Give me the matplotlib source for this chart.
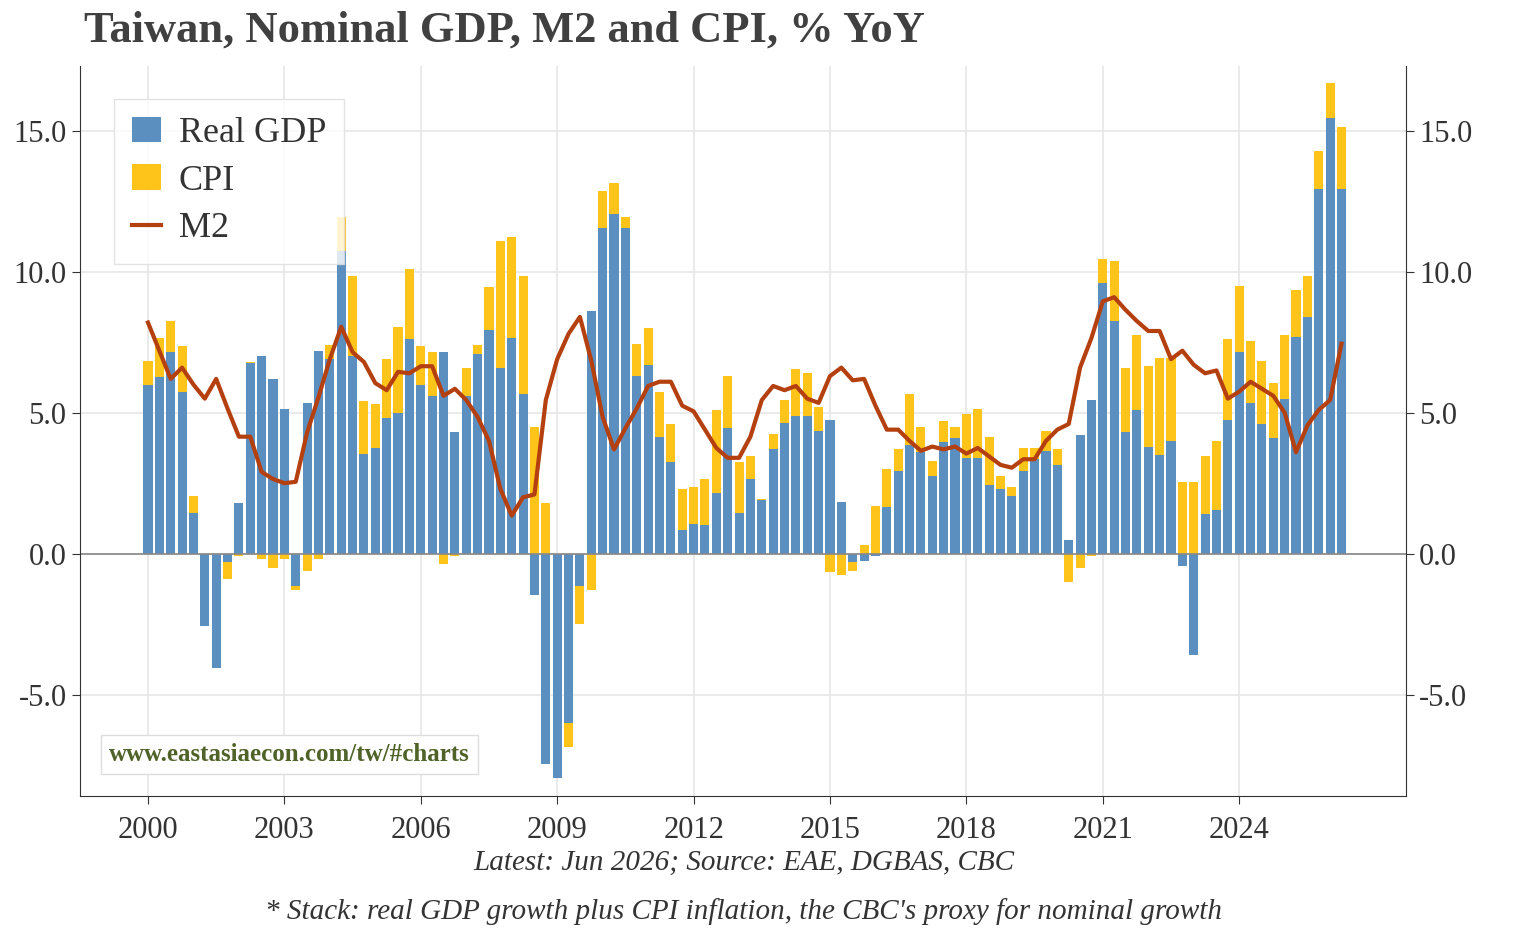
import numpy as np
import matplotlib.pyplot as plt

plt.rcParams['font.family'] = ['Liberation Serif', 'DejaVu Serif']

# quarterly, 2000Q1 .. 2026Q2
real_gdp = [6.0, 6.25, 7.15, 5.75, 1.45, -2.55, -4.05, -0.3,
            1.8, 6.75, 7.0, 6.2, 5.15, -1.15, 5.35, 7.2,
            6.9, 10.75, 7.0, 3.55, 3.75, 4.8, 5.0, 7.6,
            6.0, 5.6, 7.15, 4.3, 5.6, 7.1, 7.95, 6.6,
            7.65, 5.65, -1.45, -7.45, -7.95, -6.0, -1.15, 8.6,
            11.55, 12.05, 11.55, 6.3, 6.7, 4.15, 3.25, 0.85,
            1.05, 1.0, 2.15, 4.45, 1.45, 2.65, 1.9, 3.7,
            4.65, 4.9, 4.9, 4.35, 4.75, 1.85, -0.3, -0.25,
            -0.1, 1.65, 2.95, 3.85, 3.6, 2.75, 3.95, 4.1,
            3.4, 3.4, 2.45, 2.3, 2.05, 2.95, 3.35, 3.65,
            3.15, 0.5, 4.2, 5.45, 9.6, 8.25, 4.3, 5.1,
            3.8, 3.5, 4.0, -0.45, -3.6, 1.4, 1.55, 4.75,
            7.15, 5.35, 4.6, 4.1, 5.5, 7.7, 8.4, 12.95,
            15.45, 12.95]
cpi = [0.85, 1.4, 1.1, 1.6, 0.6, 0.0, 0.0, -0.6,
       -0.1, 0.05, -0.2, -0.5, -0.2, -0.15, -0.6, -0.2,
       0.5, 1.2, 2.85, 1.85, 1.55, 2.1, 3.05, 2.5,
       1.35, 1.55, -0.35, -0.1, 1.0, 0.3, 1.5, 4.5,
       3.6, 4.2, 4.5, 1.8, 0.0, -0.85, -1.35, -1.3,
       1.3, 1.1, 0.4, 1.15, 1.3, 1.6, 1.35, 1.45,
       1.3, 1.65, 2.95, 1.85, 1.8, 0.8, 0.05, 0.55,
       0.8, 1.65, 1.5, 0.85, -0.65, -0.75, -0.3, 0.3,
       1.7, 1.35, 0.75, 1.8, 0.9, 0.55, 0.75, 0.4,
       1.55, 1.75, 1.7, 0.45, 0.3, 0.8, 0.4, 0.7,
       0.55, -1.0, -0.5, -0.1, 0.85, 2.15, 2.3, 2.65,
       2.85, 3.45, 2.95, 2.55, 2.55, 2.05, 2.45, 2.85,
       2.35, 2.2, 2.25, 1.95, 2.25, 1.65, 1.45, 1.35,
       1.25, 2.2]
m2 = [8.2, 7.2, 6.2, 6.6, 6.0, 5.5, 6.2, 5.15, 4.15, 4.15, 2.9, 2.65,
      2.5, 2.55, 4.3, 5.55, 6.9, 8.05, 7.15, 6.8, 6.05, 5.8, 6.45, 6.4,
      6.65, 6.65, 5.6, 5.85, 5.45, 4.85, 4.0, 2.3, 1.35, 2.0, 2.1, 5.45,
      6.9, 7.8, 8.4, 6.85, 4.85, 3.7, 4.45, 5.15, 5.95, 6.1, 6.1, 5.25,
      5.05, 4.4, 3.75, 3.4, 3.4, 4.15, 5.45, 5.95, 5.8, 5.95, 5.5, 5.35,
      6.3, 6.6, 6.15, 6.2, 5.25, 4.4, 4.4, 4.0, 3.65, 3.8, 3.7, 3.8,
      3.55, 3.75, 3.45, 3.15, 3.05, 3.35, 3.35, 4.0, 4.4, 4.6, 6.6, 7.65,
      8.95, 9.1, 8.65, 8.25, 7.9, 7.9, 6.9, 7.2, 6.7, 6.4, 6.5, 5.5,
      5.75, 6.1, 5.85, 5.6, 5.0, 3.6, 4.55, 5.1, 5.45, 7.45]

x = 2000 + np.arange(len(real_gdp)) * 0.25
gdp = np.array(real_gdp)
inf = np.array(cpi)
# diverging stack: positives on positives, negatives on negatives
pos_bot = np.where(gdp > 0, gdp, 0)
neg_bot = np.where(gdp < 0, gdp, 0)
cpi_bot = np.where(inf >= 0, pos_bot, neg_bot)

fig = plt.figure(figsize=(15.34, 9.3), dpi=100)
ax = fig.add_axes([0.052, 0.144, 0.8646, 0.785])
b1 = ax.bar(x, gdp, width=0.2, color='#5a8fbf', label='Real GDP', zorder=2)
b2 = ax.bar(x, inf, width=0.2, bottom=cpi_bot, color='#ffc419', label='CPI', zorder=2)
l1, = ax.plot(x, m2, color='#b5400f', lw=3, label='M2', zorder=3)
ax.axhline(0, color='#888888', lw=1.2, zorder=2.5)

ax.set_xlim(1998.5, 2027.67)
ax.set_ylim(-8.6, 17.3)
ax.set_xticks(range(2000, 2027, 3))
ax.set_yticks([-5, 0, 5, 10, 15])
ax.set_yticklabels(['%.1f' % v for v in [-5, 0, 5, 10, 15]])
ax.grid(True, color='#e6e6e6', lw=1.2, zorder=0)
ax.set_axisbelow(True)
ax.spines['top'].set_visible(False)
for s in ['left', 'right', 'bottom']:
    ax.spines[s].set_color('#333333')
ax.tick_params(axis='both', labelsize=22, colors='#333333', length=6)
ax.tick_params(axis='y', right=True, labelright=True)
ax.tick_params(axis='x', pad=8)

leg = ax.legend([b1, b2, l1], ['Real GDP', 'CPI', 'M2'], loc='upper left',
                fontsize=26, frameon=True, fancybox=False,
                edgecolor='#dddddd', handlelength=0.8, handletextpad=0.5,
                borderpad=0.5, labelspacing=0.4,
                bbox_to_anchor=(0.012, 0.98))
for t in leg.get_texts():
    t.set_color('#333333')

ax.text(0.022, 0.048, 'www.eastasiaecon.com/tw/#charts', transform=ax.transAxes,
        fontsize=18, fontweight='bold', color='#4f6228', zorder=5,
        bbox=dict(facecolor='white', edgecolor='#dddddd', pad=6))

fig.text(0.055, 0.955, 'Taiwan, Nominal GDP, M2 and CPI, % YoY', fontsize=32,
         fontweight='bold', color='#404040')
fig.text(0.485, 0.065, 'Latest: Jun 2026; Source: EAE, DGBAS, CBC', fontsize=21,
         style='italic', color='#333333', ha='center')
fig.text(0.485, 0.012, "* Stack: real GDP growth plus CPI inflation, the CBC's proxy for nominal growth",
         fontsize=21, style='italic', color='#333333', ha='center')

fig.savefig('out.png', dpi=100)
